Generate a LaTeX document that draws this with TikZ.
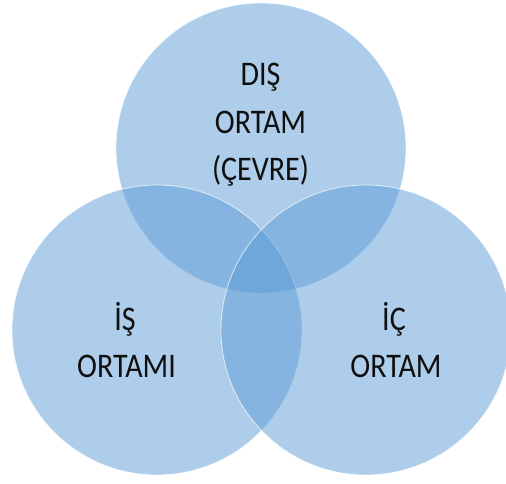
\documentclass[tikz,border=0pt]{standalone}
\usepackage{fontspec}
\setmainfont{Carlito}
\usepackage{graphicx}
\definecolor{vennblue}{RGB}{91,155,213}
\definecolor{txt}{RGB}{15,15,15}
\newcommand{\vstretch}[1]{\scalebox{1}[1.15]{#1}}
\begin{document}
\begin{tikzpicture}[x=1pt,y=-1pt,
  venn/.style={circle, minimum size=290pt, inner sep=0pt,
    fill=vennblue, fill opacity=0.5, draw=white, draw opacity=0.7, line width=0.8pt},
  lbl/.style={anchor=base, inner sep=0pt, text=txt, text opacity=1,
    font=\fontsize{30}{36}\selectfont}]
\useasboundingbox (0,0) rectangle (506,484);
\node[venn] (dis) at (261,148) {};
\node[venn] (is) at (157,330) {};
\node[venn] (ic) at (366,330) {};
% labels
\node[lbl] (d1) at (260.5,86) {\vstretch{DIŞ}};
\node[lbl] (d2) at (260.5,134) {\vstretch{ORTAM}};
\node[lbl] (d3) at (260.5,180) {\vstretch{(ÇEVRE)}};
\node[lbl] (i1) at (125,330) {\vstretch{İŞ}};
\node[lbl] (i2) at (126.5,377) {\vstretch{ORTAMI}};
\node[lbl] (c1) at (394,330) {\vstretch{İÇ}};
\node[lbl] (c2) at (396,377) {\vstretch{ORTAM}};
\end{tikzpicture}
\end{document}
